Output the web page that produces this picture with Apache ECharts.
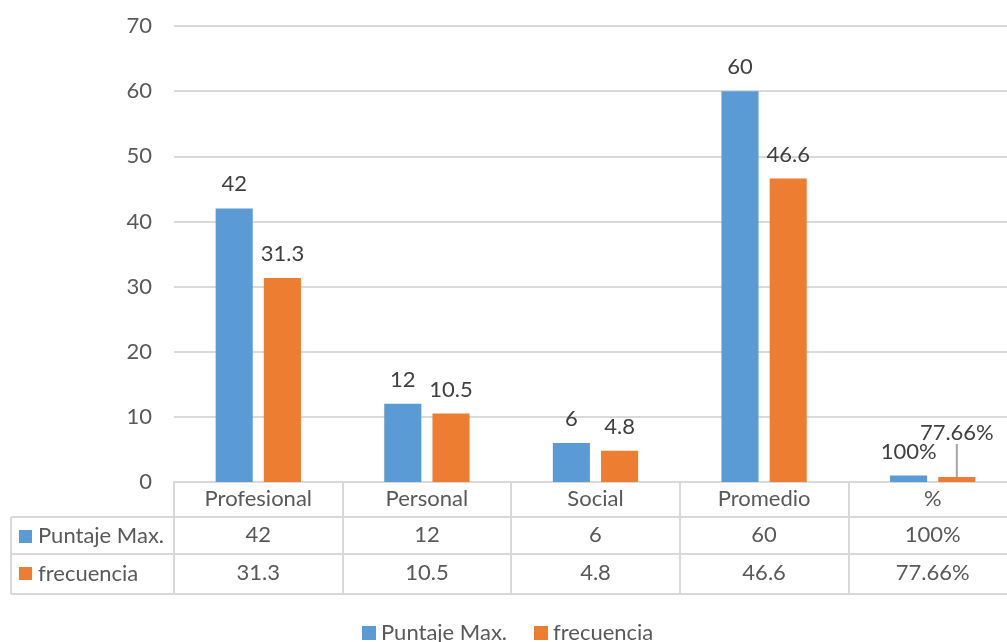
<!DOCTYPE html>
<html>
<head>
<meta charset="utf-8">
<script src="https://cdn.jsdelivr.net/npm/echarts@6/dist/echarts.min.js"></script>
<style>
html,body{margin:0;padding:0;background:#fff;overflow:hidden;width:1007px;height:642px;}
#chart{width:1017px;height:642px;}
</style>
</head>
<body>
<div id="chart"></div>
<script>
const categories = ['Profesional', 'Personal', 'Social', 'Promedio', '%'];
const seriesNames = ['Puntaje Max.', 'frecuencia'];
const puntajeValues = [42, 12, 6, 60, 1];
const frecuenciaValues = [31.3, 10.5, 4.8, 46.6, 0.7766];
const puntajeLabels = ['42', '12', '6', '60', '100%'];
const frecuenciaLabels = ['31.3', '10.5', '4.8', '46.6', '77.66%'];
const yTicks = { min: 0, max: 70, interval: 10 };

const FONT = 'Lato';
const FS = 22;
const TXT = '#595959';
const LINE = '#d9d9d9';
const BLUE = '#5b9bd5';
const ORANGE = '#ed7d31';

const chart = echarts.init(document.getElementById('chart'));

function rowAxis(offset, labels, margin) {
  return {
    type: 'category',
    data: categories,
    position: 'bottom',
    offset: offset,
    axisLine: { show: true, lineStyle: { color: LINE, width: 2 } },
    axisTick: { show: false },
    splitLine: { show: false },
    axisLabel: labels ? {
      show: true, margin: margin, color: TXT, fontSize: FS, fontFamily: FONT,
      formatter: (v) => labels[categories.indexOf(v)]
    } : { show: false }
  };
}

const tableLeft = 11, gridLeft = 174, row1 = 517, row2 = 554, row3 = 594;

const frecuenciaData = frecuenciaValues.map((v, i) => i === 4
  ? { value: v, labelLine: { show: true, lineStyle: { color: '#a6a6a6', width: 2 } } }
  : v);

const option = {
  backgroundColor: '#fff',
  animation: false,
  textStyle: { fontFamily: FONT },
  grid: { left: gridLeft, right: 0, top: 26, height: 456, containLabel: false },
  legend: {
    data: seriesNames,
    left: 357, top: 617,
    icon: 'rect', itemWidth: 14, itemHeight: 14, itemGap: 27,
    textStyle: { color: TXT, fontSize: FS, fontFamily: FONT }
  },
  xAxis: [
    {
      type: 'category',
      data: categories,
      axisLine: { show: true, lineStyle: { color: LINE, width: 2 } },
      axisTick: { show: true, length: row3 - 482, lineStyle: { color: LINE, width: 2 } },
      axisLabel: { margin: 6, color: TXT, fontSize: FS, fontFamily: FONT },
      splitLine: { show: false }
    },
    rowAxis(row1 - 482, puntajeLabels, 7),
    rowAxis(row2 - 482, frecuenciaLabels, 8),
    rowAxis(row3 - 482, null, 0)
  ],
  yAxis: {
    type: 'value',
    min: yTicks.min, max: yTicks.max, interval: yTicks.interval,
    axisLine: { show: false },
    axisTick: { show: false },
    splitLine: { lineStyle: { color: LINE, width: 2 } },
    axisLabel: { margin: 22, color: TXT, fontSize: FS, fontFamily: FONT }
  },
  series: [
    {
      name: seriesNames[0], type: 'bar', xAxisIndex: 0,
      data: puntajeValues,
      barWidth: '22%', barGap: '30%',
      itemStyle: { color: BLUE },
      label: {
        show: true, position: 'top', distance: 13, color: '#404040', fontSize: FS, fontFamily: FONT,
        formatter: (p) => puntajeLabels[p.dataIndex]
      }
    },
    {
      name: seriesNames[1], type: 'bar', xAxisIndex: 0,
      data: frecuenciaData,
      barWidth: '22%', barGap: '30%',
      itemStyle: { color: ORANGE },
      label: {
        show: true, position: 'top', distance: 13, color: '#404040', fontSize: FS, fontFamily: FONT,
        formatter: (p) => frecuenciaLabels[p.dataIndex]
      },
      labelLayout: (p) => p.dataIndex === 4 ? { dy: -20 } : {},
      labelLine: { show: false, lineStyle: { color: '#a6a6a6', width: 2 } }
    }
  ],
  graphic: [
    { type: 'line', shape: { x1: tableLeft, y1: row1, x2: gridLeft, y2: row1 }, style: { stroke: LINE, lineWidth: 2 } },
    { type: 'line', shape: { x1: tableLeft, y1: row2, x2: gridLeft, y2: row2 }, style: { stroke: LINE, lineWidth: 2 } },
    { type: 'line', shape: { x1: tableLeft, y1: row3, x2: gridLeft, y2: row3 }, style: { stroke: LINE, lineWidth: 2 } },
    { type: 'line', shape: { x1: tableLeft, y1: row1, x2: tableLeft, y2: row3 }, style: { stroke: LINE, lineWidth: 2 } },
    { type: 'rect', shape: { x: 19, y: 530, width: 13, height: 13 }, style: { fill: BLUE } },
    { type: 'text', x: 38, y: (row1 + row2) / 2, style: { text: seriesNames[0], fill: TXT, font: FS + 'px ' + FONT, verticalAlign: 'middle' } },
    { type: 'rect', shape: { x: 19, y: 567, width: 13, height: 13 }, style: { fill: ORANGE } },
    { type: 'text', x: 38, y: (row2 + row3) / 2, style: { text: seriesNames[1], fill: TXT, font: FS + 'px ' + FONT, verticalAlign: 'middle' } }
  ]
};

chart.setOption(option);
</script>
</body>
</html>
